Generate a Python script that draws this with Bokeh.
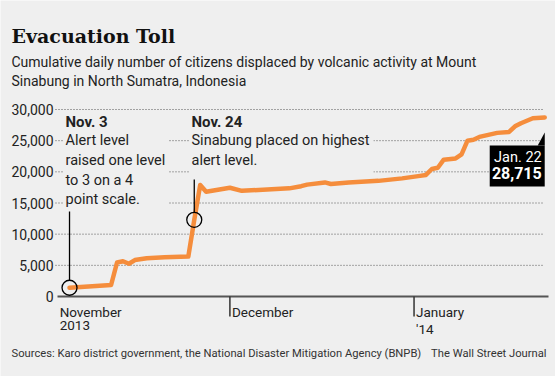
import pandas as pd
from bokeh.plotting import figure
from bokeh.models import Range1d, Label, ColumnDataSource
from bokeh.core.properties import value
from bokeh.embed import file_html
from bokeh.resources import INLINE

# ---------------- data ----------------
dates = ["2013-11-03", "2013-11-10", "2013-11-11", "2013-11-12", "2013-11-13",
         "2013-11-14", "2013-11-16", "2013-11-19", "2013-11-23", "2013-11-24",
         "2013-11-25", "2013-11-26", "2013-11-30", "2013-12-02", "2013-12-10",
         "2013-12-12", "2013-12-13", "2013-12-16", "2013-12-17", "2013-12-20",
         "2013-12-25", "2013-12-29", "2014-01-01", "2014-01-02", "2014-01-03",
         "2014-01-04", "2014-01-05", "2014-01-07", "2014-01-08", "2014-01-09",
         "2014-01-10", "2014-01-11", "2014-01-14", "2014-01-16", "2014-01-17",
         "2014-01-18", "2014-01-20", "2014-01-22"]
displaced = [1400, 1850, 5450, 5650, 5250,
             5850, 6150, 6300, 6400, 12300,
             17900, 16800, 17450, 16950, 17350,
             17700, 17950, 18300, 18050, 18300,
             18550, 18950, 19350, 19500, 20450,
             20650, 21950, 22150, 22800, 25000,
             25150, 25600, 26250, 26400, 27300,
             27800, 28600, 28715]

month_starts = ["2013-11-01", "2013-12-01", "2014-01-01"]
month_labels = ["November\n2013", "December", "January\n'14"]
y_ticks = [0, 5000, 10000, 15000, 20000, 25000, 30000]

events = ["2013-11-03", "2013-11-24"]
event_heads = ["Nov. 3", "Nov. 24"]
event_texts = ["Alert level\nraised one level\nto 3 on a 4\npoint scale.",
               "Sinabung placed on highest\nalert level."]

title = "Evacuation Toll"
subtitle = ("Cumulative daily number of citizens displaced by volcanic activity at Mount\n"
            "Sinabung in North Sumatra, Indonesia")
source_left = "Sources: Karo district government, the National Disaster Mitigation Agency (BNPB)"
source_right = "The Wall Street Journal"

# ---------------- helpers ----------------
base = pd.Timestamp("2013-11-01")
def day(d):
    return (pd.Timestamp(d) - base).days + 1

x = [day(d) for d in dates]
tick_x = [day(d) - 1 for d in month_starts]

BG = "#efefef"
ORANGE = "#f58d3c"
TXT = "#222222"
FONT = "Roboto"

# page pixel -> data helpers (layout placement only)
PXD = 5.94             # pixels per day
X0 = 51.2              # page x of day 0
YPX = 30000 / 187      # value per pixel
def xv(px):
    return (px - X0) / PXD
def yv(py):
    return (296 - py) * YPX

p = figure(width=555, height=376, output_backend="svg", toolbar_location=None,
           x_range=Range1d(xv(0), xv(555)), y_range=Range1d(yv(376), yv(0)),
           x_axis_location=None, y_axis_location=None, title_location=None,
           min_border=0)
p.background_fill_color = BG
p.border_fill_color = BG
p.outline_line_color = None
p.grid.visible = False

def lines(text, x0, top, pitch, size, style="normal", color=TXT, bg=None,
          align="left", font=FONT):
    for i, ln in enumerate(text.split("\n")):
        kw = dict(background_fill_color=bg, padding=2) if bg else {}
        p.add_layout(Label(x=x0, y=yv(top + i * pitch), text=ln, text_font=font,
                           text_font_size=size, text_font_style=style,
                           text_color=color, text_baseline="top",
                           text_align=align, **kw))

# --- y axis: dotted gridlines + labels from the tick list ---
grid_ticks = y_ticks[1:]
p.segment(x0=[xv(55)] * len(grid_ticks), y0=grid_ticks,
          x1=[xv(544)] * len(grid_ticks), y1=grid_ticks,
          line_color="#555555", line_dash="1 2", line_width=1)
ysrc = ColumnDataSource(dict(x=[xv(53)] * len(y_ticks), y=y_ticks,
                             t=[f"{v:,}" for v in y_ticks]))
p.text("x", "y", text="t", source=ysrc, text_font=value(FONT),
       text_font_size="14px", text_color=TXT, text_align="right",
       text_baseline="middle")

# --- text blocks' backgrounds (mask gridlines) ---
p.quad(left=[xv(63), xv(189)], right=[xv(168), xv(373)],
       top=[yv(111), yv(111)], bottom=[yv(209), yv(178)],
       fill_color=BG, line_color=None)

# --- x axis: baseline, month-boundary ticks, month labels ---
p.segment(x0=[xv(57)], y0=[0], x1=[xv(548)], y1=[0],
          line_color="#555555", line_width=2)
p.segment(x0=tick_x[1:], y0=[0] * 2, x1=tick_x[1:], y1=[yv(316)] * 2,
          line_color="#333333", line_width=1.5)
label_x = [tick_x[0] + 1] + tick_x[1:]
for lx, lab in zip(label_x, month_labels):
    lines(lab, lx + 2 / PXD, 303, 17.3, "13.5px")

# --- main line ---
src = ColumnDataSource(dict(x=x, y=displaced))
p.line("x", "y", source=src, line_color=ORANGE, line_width=4.5,
       line_join="round", line_cap="round")

# --- event circles, leaders and notes ---
ev_x = [day(d) for d in events]
ev_y = [displaced[dates.index(d)] for d in events]
p.scatter(ev_x, ev_y, size=15, marker="circle", fill_alpha=0,
          line_color="black", line_width=1.3)
leader_top = [yv(211), yv(179)]
p.segment(x0=ev_x, y0=[v + 7.5 * YPX for v in ev_y], x1=ev_x, y1=leader_top,
          line_color="black", line_width=1.3)
head_x = [xv(65), xv(191)]
for hx, head, body in zip(head_x, event_heads, event_texts):
    lines(head, hx, 112, 20, "15px", style="bold")
    lines(body, hx, 131.5, 19.8, "14.5px")

# --- final value callout ---
xl, yl = x[-1], displaced[-1]
bw, top_off, bot_off = 55 / PXD, 28 * YPX, 69 * YPX
p.quad(left=[xl - bw], right=[xl], top=[yl - top_off], bottom=[yl - bot_off],
       fill_color="black", line_color=None)
p.patch([xl, xl, xl - 7 / PXD], [yl - 15 * YPX, yl - top_off, yl - top_off],
        fill_color="black", line_color=None)
last = pd.Timestamp(dates[-1])
p.add_layout(Label(x=xl, y=yl - top_off - 3 * YPX, x_offset=-3,
                   text=f"{last:%b}. {last.day}", text_font=FONT,
                   text_font_size="14.5px", text_color="white",
                   text_align="right", text_baseline="top"))
p.add_layout(Label(x=xl, y=yl - top_off - 21 * YPX, x_offset=-3,
                   text=f"{yl:,}", text_font=FONT, text_font_style="bold",
                   text_font_size="16px", text_color="white",
                   text_align="right", text_baseline="top"))

# --- title, subtitle, sources ---
lines(title, xv(11), 24.5, 24, "19px", style="bold", color="#111111",
      font="DejaVu Serif")
lines(subtitle, xv(11), 53, 19, "14px")
lines(source_left, xv(11), 346.5, 14, "11.2px", color="#333333")
lines(source_right, xv(546), 346.5, 14, "11.2px", color="#333333", align="right")

open("out.html", "w").write(file_html(p, INLINE))
